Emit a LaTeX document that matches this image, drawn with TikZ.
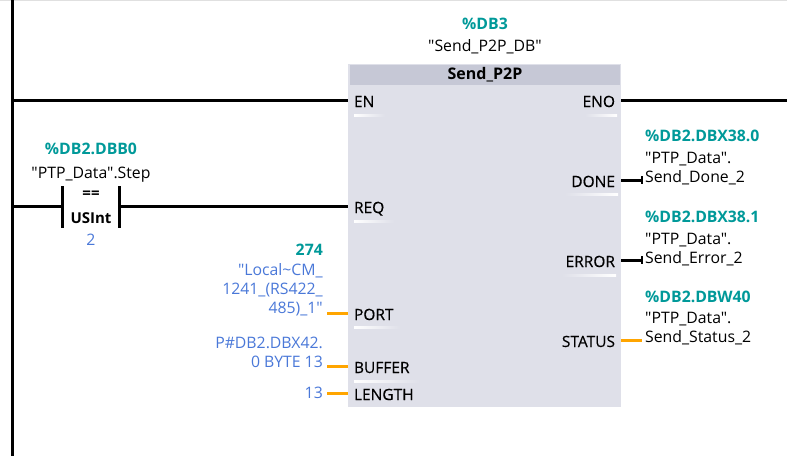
\documentclass[tikz,border=0pt]{standalone}
\usepackage{fontspec}
\setmainfont{Open Sans}[Ligatures=TeXOff]
\newfontfamily\pinfont{Open Sans}[FakeBold=0.4,Ligatures=TeXOff]
\usetikzlibrary{positioning,shadings}
\definecolor{blockgray}{HTML}{DFE0E9}
\definecolor{titlegray}{HTML}{C6C8D6}
\definecolor{addrteal}{HTML}{009999}
\definecolor{constblue}{HTML}{4A78D8}
\definecolor{wireorange}{HTML}{FFA500}
\tikzset{
  wire/.style={line width=3pt,black},
  owire/.style={line width=3pt,wireorange},
  pinlabel/.style={font=\pinfont\fontsize{15.5}{15.5}\selectfont,inner xsep=6pt,inner ysep=0pt,outer sep=0pt,text height=14pt,text depth=0pt},
  addr/.style={font=\bfseries\fontsize{15.8}{15.8}\selectfont,text=addrteal,inner sep=0pt},
  symb/.style={font=\fontsize{15.8}{19}\selectfont,inner sep=0pt,align=left},
  const/.style={font=\fontsize{15.8}{19}\selectfont,text=constblue,inner sep=0pt,align=right},
  cmplabel/.style={inner sep=0pt,font=\bfseries\fontsize{15}{15}\selectfont}
}
\begin{document}
\begin{tikzpicture}[x=1pt,y=-1pt]
  \useasboundingbox (0,0) rectangle (787,456);
  \fill[black!12] (0,0) rectangle (787,1);

  % block
  \node[fill=blockgray,minimum width=273pt,minimum height=343pt,inner sep=0pt,outer sep=0pt] (sendblock) at (484.5,235.5) {};
  \node[fill=titlegray,minimum width=270pt,minimum height=20pt,inner sep=0pt,font=\bfseries\fontsize{16}{16}\selectfont] (sendtitle) at (485,75) {Send\_P2P};
  \node[addr] (dbaddr) at (485,24) {\%DB3};
  \node[symb] (dbname) at (485,46.5) {"Send\_P2P\_DB"};

  % pins
  \node[pinlabel,anchor=west] (en) at (348,100) {EN};
  \node[pinlabel,anchor=west] (req) at (348,206) {REQ};
  \node[pinlabel,anchor=west] (port) at (348,313) {PORT};
  \node[pinlabel,anchor=west] (buffer) at (348,366) {BUFFER};
  \node[pinlabel,anchor=west] (length) at (348,393) {LENGTH};
  \node[pinlabel,anchor=east] (eno) at (621,100) {ENO};
  \node[pinlabel,anchor=east] (done) at (621,180) {DONE};
  \node[pinlabel,anchor=east] (error) at (621,260) {ERROR};
  \node[pinlabel,anchor=east] (status) at (621,340) {STATUS};

  % pin highlights
  \shade[left color=white,right color=blockgray] (354,114) rectangle (385,116.5);
  \shade[left color=white,right color=blockgray] (354,220) rectangle (394,222.5);
  \shade[left color=white,right color=blockgray] (354,326) rectangle (400,328.5);
  \shade[left color=white,right color=blockgray] (354,380) rectangle (420,382.5);
  \shade[right color=white,left color=blockgray] (585,114) rectangle (617,116.5);
  \shade[right color=white,left color=blockgray] (565,193) rectangle (618,195.5);
  \shade[right color=white,left color=blockgray] (562,274) rectangle (616,276.5);

  % rail
  \coordinate (railtop) at (12,0);
  \coordinate (railbottom) at (12,456);
  \coordinate (railen) at (12,100);
  \coordinate (railreq) at (12,206);
  \coordinate (enoend) at (787,100);
  \draw[line width=3pt] (railtop) -- (railbottom);

  % comparator
  \coordinate (cmpl) at (62,206);
  \coordinate (cmpr) at (119,206);
  \coordinate (cmplt) at (62,186);
  \coordinate (cmplb) at (62,228);
  \coordinate (cmprt) at (119,186);
  \coordinate (cmprb) at (119,228);
  \draw[line width=3pt] (cmplt) -- (cmplb);
  \draw[line width=3pt] (cmprt) -- (cmprb);
  \node[cmplabel] (cmpop) at (91,195) {==};
  \node[cmplabel] (cmptype) at (91,218) {USInt};
  \node[const] (cmpval) at (91,240) {2};
  \node[addr] (stepaddr) at (91,149) {\%DB2.DBB0};
  \node[symb] (stepname) at (91,174.5) {"PTP\_Data".Step};

  % inputs
  \node[addr,anchor=east] (portaddr) at (323,250) {274};
  \node[const,anchor=north east] (portval) at (323,263) {"Local\textasciitilde CM\_\\1241\_(RS422\_\\485)\_1"};
  \node[const,anchor=north east] (bufferval) at (323,337) {P\#DB2.DBX42.\\0 BYTE 13};
  \node[const,anchor=east] (lengthval) at (323,393) {13};
  \coordinate (portend) at (327,313);
  \coordinate (bufferend) at (327,366);
  \coordinate (lengthend) at (327,393);

  % outputs
  \node[addr,anchor=west] (doneaddr) at (645,136) {\%DB2.DBX38.0};
  \node[symb,anchor=north west] (donename) at (645,152) {"PTP\_Data".\\Send\_Done\_2};
  \node[addr,anchor=west] (erroraddr) at (645,217) {\%DB2.DBX38.1};
  \node[symb,anchor=north west] (errorname) at (645,233) {"PTP\_Data".\\Send\_Error\_2};
  \node[addr,anchor=west] (statusaddr) at (645,297) {\%DB2.DBW40};
  \node[symb,anchor=north west] (statusname) at (645,312) {"PTP\_Data".\\Send\_Status\_2};
  \coordinate (doneend) at (642,180);
  \coordinate (errorend) at (642,260);
  \coordinate (statusend) at (642,340);
  \coordinate (donet) at (642,176);
  \coordinate (doneb) at (642,184);
  \coordinate (errort) at (642,256);
  \coordinate (errorb) at (642,264);

  \foreach \from/\to in {railen/en.west,railreq/cmpl,cmpr/req.west,eno.east/enoend,done.east/doneend,error.east/errorend}
    \draw[wire] (\from)--(\to);
  \foreach \from/\to in {portend/port.west,bufferend/buffer.west,lengthend/length.west,status.east/statusend}
    \draw[owire] (\from)--(\to);
  \foreach \from/\to in {donet/doneb,errort/errorb}
    \draw[line width=1.6pt] (\from)--(\to);
\end{tikzpicture}
\end{document}
